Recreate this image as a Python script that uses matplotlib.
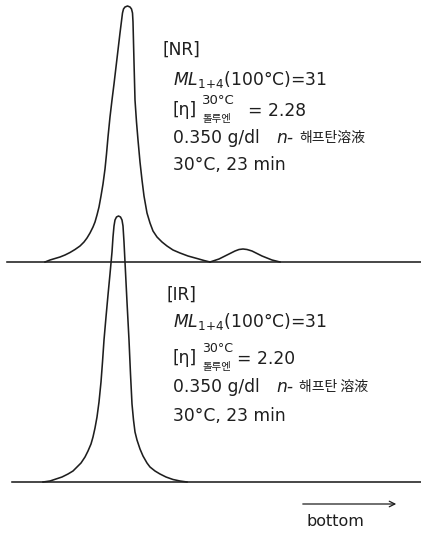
import matplotlib
matplotlib.use("Agg")
import matplotlib.pyplot as plt

plt.rcParams['font.family'] = ['DejaVu Sans', 'Noto Sans CJK KR']
plt.rcParams['mathtext.fontset'] = 'dejavusans'

# elution position and detector response (arbitrary units)
nr_x = [45, 50, 55, 60, 65, 70, 75, 80, 84, 87, 90, 93, 95, 97, 99, 101, 103, 105,
        106.5, 108, 110, 112, 114, 116, 118, 120, 121.5, 122.5, 123.5, 125, 127.5,
        130, 131.5, 132.5, 133, 134, 135, 136.5, 138, 140, 142, 144, 147, 150, 153,
        157, 162, 167, 173, 180, 188, 197, 204, 210]
nr_y = [0, 2, 3.5, 5, 7, 9.5, 12.5, 16, 20, 24, 29, 35, 40, 47, 55, 66, 78, 93,
        108, 125, 145, 162, 178, 195, 212, 229, 241, 249, 253, 255, 256,
        255, 253, 249, 240, 200, 162, 140, 122, 100, 82, 66, 49, 39, 31,
        25, 20, 16, 12, 9, 6, 3.5, 1.5, 0]

bump_x = [210, 213, 219, 225, 230, 235, 239, 243, 247, 252, 257, 262, 267, 272, 280]
bump_y = [0, 1, 3, 6, 8.5, 11, 12.5, 13, 12.5, 11, 8.5, 6, 4, 2, 0]

ir_x = [43, 50, 56, 62, 68, 73, 77, 81, 85, 88, 91, 93, 95, 97, 99, 101, 102.5,
        104, 106, 108, 110, 112, 113, 114, 115, 116.5, 118.5, 120.5, 122, 123,
        124, 125, 127, 129, 130.5, 132, 133.5, 135, 137, 140, 143, 147, 150, 155,
        160, 166, 173, 180, 187]
ir_y = [0, 1, 3, 5, 8, 11, 15, 19, 25, 31, 38, 45, 54, 65, 80, 100, 120,
        142, 165, 187, 208, 230, 245, 256, 262, 265, 266, 265, 262, 256,
        240, 220, 180, 142, 108, 78, 62, 50, 42, 33, 26, 19, 15, 11,
        8, 5, 2.5, 1, 0]

# sample annotations
samples = ['NR', 'IR']
ml_values = ['31', '31']
eta_values = ['2.28', '2.20']
solvent = ['해프탄溶液', '해프탄 溶液']

nr_base = 262
ir_base = 482

fig = plt.figure(figsize=(4.21, 5.34), dpi=100)
ax = fig.add_axes([0, 0, 1, 1])
ax.set_xlim(0, 421)
ax.set_ylim(534, 0)
ax.axis('off')

ink = '#1e1e1e'
lw = 1.15

# baselines
ax.plot([7, 421], [nr_base, nr_base], color=ink, lw=lw)
ax.plot([12, 421], [ir_base, ir_base], color=ink, lw=lw)

# traces
ax.plot(nr_x, [nr_base - v for v in nr_y], color=ink, lw=lw,
        solid_joinstyle='round')
ax.plot(bump_x, [nr_base - v for v in bump_y], color=ink, lw=lw)
ax.plot(ir_x, [ir_base - v for v in ir_y], color=ink, lw=lw,
        solid_joinstyle='round')

fs = 12.3
# label block layout: (bracket x, text x, eta value x, row ys)
blocks = [
    (163, 173, 248, [50, 80, 110, 138, 165]),
    (166, 173, 237, [295, 321, 358, 387, 416]),
]
for i, (xb, xt, xe, ys) in enumerate(blocks):
    ax.text(xb, ys[0], '[' + samples[i] + ']', fontsize=fs, color=ink,
            va='center')
    ax.text(xt, ys[1], r'$ML_{1\!+\!4}$' + '(100°C)=' + ml_values[i],
            fontsize=fs, color=ink, va='center')
    ax.text(xt, ys[2], '[η]', fontsize=fs, color=ink, va='center')
    ax.text(xt + 29, ys[2] - 9, '30°C', fontsize=9.5 if i == 0 else 9,
            color=ink, va='center')
    ax.text(xt + 29, ys[2] + 9, '톨루엔', fontsize=7.5, color=ink, va='center',
            family=['Noto Sans CJK KR'])
    ax.text(xe, ys[2] + 1, '= ' + eta_values[i], fontsize=fs, color=ink,
            va='center')
    ax.text(xt, ys[3], '0.350 g/dl', fontsize=fs, color=ink, va='center')
    ax.text(xt + 103, ys[3], 'n-', fontsize=fs, color=ink, va='center',
            style='italic')
    ax.text(xt + 126, ys[3], solvent[i], fontsize=10, color=ink,
            va='center', family=['Noto Sans CJK KR'])
    ax.text(xt, ys[4], '30°C, 23 min', fontsize=fs, color=ink, va='center')

# flow direction
ax.annotate('', xy=(399, 504), xytext=(300, 504),
            arrowprops=dict(arrowstyle='->', color=ink, lw=0.9))
ax.text(335, 521, 'bottom', fontsize=11.5, color=ink, ha='center', va='center')

fig.savefig('out.png', dpi=100, facecolor='w')
